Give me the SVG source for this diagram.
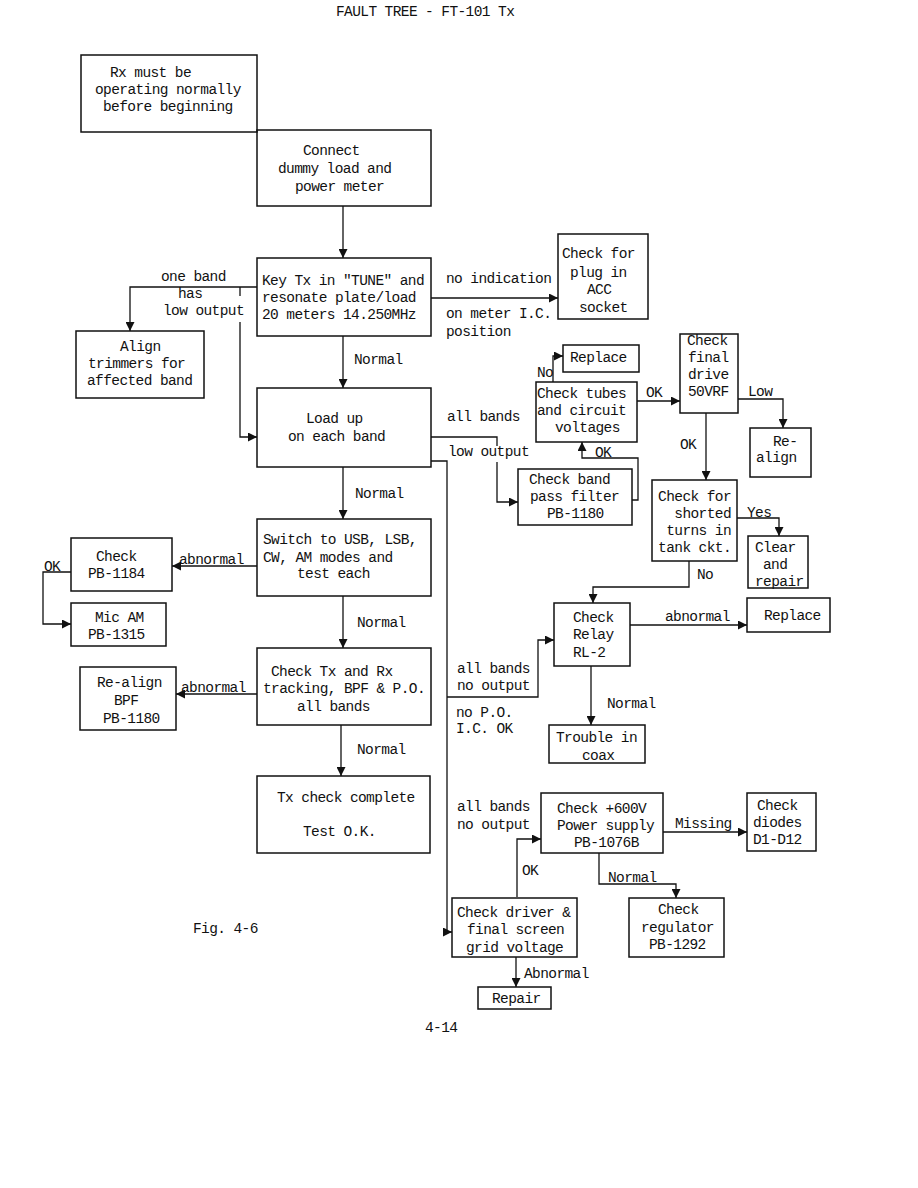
<svg xmlns="http://www.w3.org/2000/svg" width="918" height="1188" viewBox="0 0 918 1188">
<defs>
<marker id="ah" viewBox="0 0 10 10" refX="10" refY="5" markerWidth="9" markerHeight="9" markerUnits="userSpaceOnUse" orient="auto">
<path d="M0,0 L10,5 L0,10 z" fill="#111"/>
</marker>
<style>
.b{fill:none;stroke:#111;stroke-width:1.5}
.c{fill:none;stroke:#111;stroke-width:1.3}
.a{marker-end:url(#ah)}
text{font-family:"Liberation Mono","DejaVu Sans Mono",monospace;font-size:14.5px;letter-spacing:-0.6px;fill:#111}
</style>
</defs>
<rect width="918" height="1188" fill="#fff"/>
<text x="336" y="16">FAULT TREE - FT-101 Tx</text>

<g id="connectors">
<path class="c a" d="M343,206 V258"/>
<path class="c a" d="M257,287 H130 V331"/>
<path class="c" d="M240,287 V296"/>
<path class="c a" d="M240,322 V437 H257"/>
<path class="c a" d="M343,336 V388"/>
<path class="c a" d="M431,298 H558"/>
<path class="c" d="M431,437 H497 V446"/>
<path class="c a" d="M497,462 V502 H518"/>
<path class="c a" d="M431,461 H447 V932 H452"/>
<path class="c a" d="M343,467 V519"/>
<path class="c a" d="M257,566 H172"/>
<path class="c a" d="M71,572 H43 V624 H71"/>
<path class="c a" d="M343,596 V648"/>
<path class="c a" d="M257,694 H176"/>
<path class="c a" d="M341,725 V776"/>
<path class="c a" d="M553,382 V356 H563"/>
<path class="c a" d="M637,401 H680"/>
<path class="c a" d="M738,399 H783 V428"/>
<path class="c a" d="M706,413 V480"/>
<path class="c a" d="M737,518 H779 V536"/>
<path class="c a" d="M689,561 V587 H593 V603"/>
<path class="c a" d="M630,625 H747"/>
<path class="c a" d="M591,666 V725"/>
<path class="c a" d="M447,697 H538 V640 H554"/>
<path class="c a" d="M632,500 H638 V458 H582 V442"/>
<path class="c a" d="M517,897 V839 H541"/>
<path class="c a" d="M663,832 H747"/>
<path class="c a" d="M599,853 V884 H676 V898"/>
<path class="c a" d="M516,957 V987"/>
</g>

<g id="labels">
<text x="161" y="281">one band</text>
<text x="178" y="298">has</text>
<text x="163" y="315">low output</text>
<text x="354" y="364">Normal</text>
<text x="446" y="283">no indication</text>
<text x="446" y="318">on meter I.C.</text>
<text x="446" y="336">position</text>
<text x="447" y="421">all bands</text>
<text x="448" y="456">low output</text>
<text x="355" y="498">Normal</text>
<text x="179" y="564">abnormal</text>
<text x="44" y="571">OK</text>
<text x="357" y="627">Normal</text>
<text x="181" y="692">abnormal</text>
<text x="357" y="754">Normal</text>
<text x="537" y="377">No</text>
<text x="646" y="397">OK</text>
<text x="748" y="396">Low</text>
<text x="680" y="449">OK</text>
<text x="595" y="457">OK</text>
<text x="747" y="517">Yes</text>
<text x="697" y="579">No</text>
<text x="665" y="621">abnormal</text>
<text x="457" y="673">all bands</text>
<text x="457" y="690">no output</text>
<text x="456" y="717">no P.O.</text>
<text x="456" y="733">I.C. OK</text>
<text x="607" y="708">Normal</text>
<text x="457" y="811">all bands</text>
<text x="457" y="829">no output</text>
<text x="675" y="828">Missing</text>
<text x="522" y="875">OK</text>
<text x="608" y="882">Normal</text>
<text x="524" y="978">Abnormal</text>
<text x="193" y="933">Fig. 4-6</text>
<text x="425" y="1032">4-14</text>
</g>

<g id="n-rx"><rect class="b" x="81" y="55" width="176" height="77"/>
<text x="110" y="77">Rx must be</text><text x="95" y="94">operating normally</text><text x="103" y="111">before beginning</text></g>

<g id="n-connect"><rect class="b" x="257" y="130" width="174" height="76"/>
<text x="303" y="155">Connect</text><text x="278" y="173">dummy load and</text><text x="295" y="191">power meter</text></g>

<g id="n-keytx"><rect class="b" x="257" y="258" width="174" height="78"/>
<text x="262" y="285">Key Tx in "TUNE" and</text><text x="262" y="302">resonate plate/load</text><text x="262" y="319">20 meters 14.250MHz</text></g>

<g id="n-align"><rect class="b" x="76" y="331" width="128" height="67"/>
<text x="120" y="351">Align</text><text x="88" y="368">trimmers for</text><text x="87" y="385">affected band</text></g>

<g id="n-loadup"><rect class="b" x="257" y="388" width="174" height="79"/>
<text x="306" y="423">Load  up</text><text x="288" y="441">on each band</text></g>

<g id="n-plug"><rect class="b" x="558" y="234" width="90" height="85"/>
<text x="562" y="258">Check for</text><text x="570" y="277">plug in</text><text x="587" y="294">ACC</text><text x="579" y="312">socket</text></g>

<g id="n-replace1"><rect class="b" x="563" y="345" width="76" height="27"/>
<text x="570" y="362">Replace</text></g>

<g id="n-tubes"><rect class="b" x="536" y="382" width="101" height="60"/>
<text x="537" y="398">Check tubes</text><text x="537" y="415">and circuit</text><text x="555" y="432">voltages</text></g>

<g id="n-finaldrive"><rect class="b" x="680" y="334" width="58" height="79"/>
<text x="687" y="345">Check</text><text x="688" y="362">final</text><text x="688" y="379">drive</text><text x="688" y="396">50VRF</text></g>

<g id="n-realign"><rect class="b" x="750" y="428" width="61" height="49"/>
<text x="773" y="446">Re-</text><text x="756" y="462">align</text></g>

<g id="n-bpf"><rect class="b" x="518" y="469" width="114" height="56"/>
<text x="529" y="484">Check band</text><text x="530" y="501">pass filter</text><text x="547" y="518">PB-1180</text></g>

<g id="n-shorted"><rect class="b" x="652" y="480" width="85" height="81"/>
<text x="731" y="501" text-anchor="end">Check for</text><text x="731" y="518" text-anchor="end">shorted</text><text x="731" y="535" text-anchor="end">turns in</text><text x="731" y="552" text-anchor="end">tank ckt.</text></g>

<g id="n-clear"><rect class="b" x="748" y="536" width="60" height="52"/>
<text x="755" y="552">Clear</text><text x="763" y="569">and</text><text x="755" y="586">repair</text></g>

<g id="n-switch"><rect class="b" x="257" y="519" width="174" height="77"/>
<text x="263" y="544">Switch to USB, LSB,</text><text x="263" y="562">CW, AM modes and</text><text x="297" y="578">test each</text></g>

<g id="n-pb1184"><rect class="b" x="71" y="538" width="101" height="53"/>
<text x="96" y="561">Check</text><text x="88" y="578">PB-1184</text></g>

<g id="n-micam"><rect class="b" x="71" y="603" width="95" height="43"/>
<text x="95" y="622">Mic AM</text><text x="88" y="639">PB-1315</text></g>

<g id="n-relay"><rect class="b" x="554" y="603" width="76" height="63"/>
<text x="573" y="622">Check</text><text x="573" y="639">Relay</text><text x="573" y="657">RL-2</text></g>

<g id="n-replace2"><rect class="b" x="747" y="598" width="83" height="34"/>
<text x="764" y="620">Replace</text></g>

<g id="n-tracking"><rect class="b" x="257" y="648" width="174" height="77"/>
<text x="271" y="676">Check Tx and Rx</text><text x="263" y="693">tracking, BPF &amp; P.O.</text><text x="297" y="711">all bands</text></g>

<g id="n-realignbpf"><rect class="b" x="80" y="667" width="96" height="63"/>
<text x="97" y="687">Re-align</text><text x="114" y="705">BPF</text><text x="103" y="723">PB-1180</text></g>

<g id="n-coax"><rect class="b" x="549" y="725" width="96" height="38"/>
<text x="556" y="742">Trouble in</text><text x="582" y="760">coax</text></g>

<g id="n-complete"><rect class="b" x="257" y="776" width="173" height="77"/>
<text x="277" y="802">Tx check complete</text><text x="303" y="836">Test O.K.</text></g>

<g id="n-600v"><rect class="b" x="541" y="793" width="122" height="60"/>
<text x="557" y="813">Check +600V</text><text x="557" y="830">Power supply</text><text x="574" y="847">PB-1076B</text></g>

<g id="n-diodes"><rect class="b" x="747" y="793" width="69" height="58"/>
<text x="757" y="810">Check</text><text x="753" y="827">diodes</text><text x="753" y="844">D1-D12</text></g>

<g id="n-driver"><rect class="b" x="452" y="898" width="125" height="59"/>
<text x="457" y="917">Check driver &amp;</text><text x="467" y="934">final screen</text><text x="466" y="952">grid voltage</text></g>

<g id="n-regulator"><rect class="b" x="629" y="898" width="95" height="59"/>
<text x="658" y="914">Check</text><text x="641" y="932">regulator</text><text x="649" y="949">PB-1292</text></g>

<g id="n-repair"><rect class="b" x="478" y="987" width="73" height="22"/>
<text x="492" y="1003">Repair</text></g>
</svg>
